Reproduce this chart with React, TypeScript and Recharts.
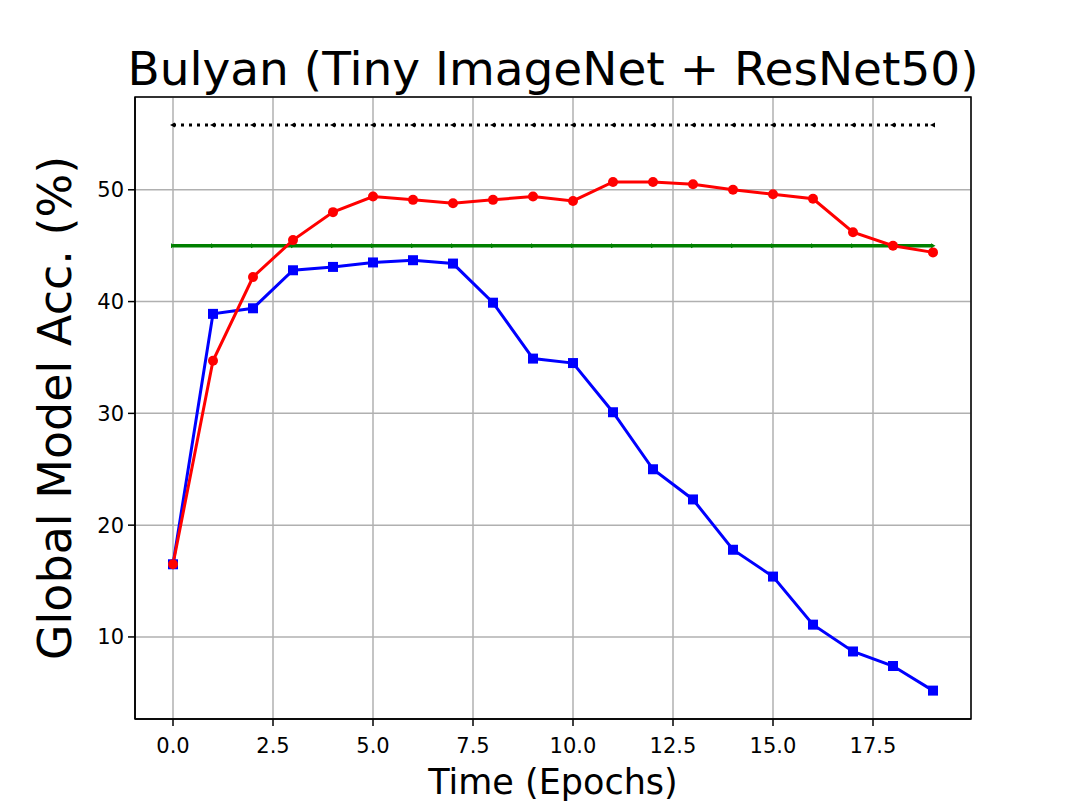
import { LineChart, Line, XAxis, YAxis, CartesianGrid, ReferenceArea } from 'recharts';

const epochs = [0, 1, 2, 3, 4, 5, 6, 7, 8, 9, 10, 11, 12, 13, 14, 15, 16, 17, 18, 19];
const attackAcc = [16.5, 38.9, 39.4, 42.8, 43.1, 43.5, 43.7, 43.4, 39.9, 34.9, 34.5, 30.1, 25.0, 22.3, 17.8, 15.4, 11.1, 8.7, 7.4, 5.2];
const bulyanAcc = [16.5, 34.7, 42.2, 45.5, 48.0, 49.4, 49.1, 48.8, 49.1, 49.4, 49.0, 50.7, 50.7, 50.5, 50.0, 49.6, 49.2, 46.2, 45.0, 44.4];
const benignAcc = [45.0, 45.0, 45.0, 45.0, 45.0, 45.0, 45.0, 45.0, 45.0, 45.0, 45.0, 45.0, 45.0, 45.0, 45.0, 45.0, 45.0, 45.0, 45.0, 45.0];
const upperAcc = [55.8, 55.8, 55.8, 55.8, 55.8, 55.8, 55.8, 55.8, 55.8, 55.8, 55.8, 55.8, 55.8, 55.8, 55.8, 55.8, 55.8, 55.8, 55.8, 55.8];

const xTicks = [0, 2.5, 5, 7.5, 10, 12.5, 15, 17.5];
const yTicks = [10, 20, 30, 40, 50];
const xDomain = [-0.95, 19.95];
const yDomain = [2.66, 58.3];

const data = epochs.map((e, i) => ({
  epoch: e,
  attack: attackAcc[i],
  bulyan: bulyanAcc[i],
  benign: benignAcc[i],
  upper: upperAcc[i],
}));

const FONT = 'DejaVu Sans, sans-serif';

const SquareDot = (props: any) => {
  const { cx, cy } = props;
  return <rect x={cx - 5} y={cy - 5} width={10} height={10} fill="#0000ff" />;
};

const CircleDot = (props: any) => {
  const { cx, cy } = props;
  return <circle cx={cx} cy={cy} r={5} fill="#ff0000" />;
};

const LeftTri = (props: any) => {
  const { cx, cy } = props;
  return <path d={`M${cx - 3},${cy} L${cx + 2},${cy - 2.5} L${cx + 2},${cy + 2.5} Z`} fill="#000" />;
};

const RightTri = (props: any) => {
  const { cx, cy } = props;
  return <path d={`M${cx + 2.5},${cy} L${cx - 2},${cy - 2.5} L${cx - 2},${cy + 2.5} Z`} fill="#008000" />;
};

export default function App() {
  return (
    <div style={{ position: 'absolute', left: 0, top: 0, width: 1079, height: 809, background: '#fff' }}>
      <LineChart width={1079} height={809} data={data} margin={{ top: 97, right: 108, bottom: 50, left: 75 }}>
        <CartesianGrid stroke="#b0b0b0" strokeWidth={1.5} />
        <XAxis
          dataKey="epoch"
          type="number"
          domain={xDomain}
          ticks={xTicks}
          allowDataOverflow
          tickFormatter={(v: number) => v.toFixed(1)}
          height={40}
          tickSize={7}
          tickMargin={12}
          stroke="#000"
          strokeWidth={1.5}
          tick={{ fill: '#000', fontSize: 21, fontFamily: FONT }}
        />
        <YAxis
          type="number"
          domain={yDomain}
          ticks={yTicks}
          allowDataOverflow
          width={60}
          tickSize={7}
          tickMargin={4}
          stroke="#000"
          strokeWidth={1.5}
          tick={{ fill: '#000', fontSize: 21, fontFamily: FONT }}
        />
        <ReferenceArea x1={xDomain[0]} x2={xDomain[1]} y1={yDomain[0]} y2={yDomain[1]} fill="none" stroke="#000" strokeWidth={1.5} ifOverflow="visible" />
        <Line dataKey="benign" stroke="#008000" strokeWidth={3.5} dot={<RightTri />} isAnimationActive={false} />
        <Line dataKey="upper" stroke="#000" strokeWidth={3} strokeDasharray="3 5" dot={<LeftTri />} isAnimationActive={false} />
        <Line dataKey="attack" stroke="#0000ff" strokeWidth={3} dot={<SquareDot />} isAnimationActive={false} />
        <Line dataKey="bulyan" stroke="#ff0000" strokeWidth={3} dot={<CircleDot />} isAnimationActive={false} />
      </LineChart>
      <svg width={1079} height={809} style={{ position: 'absolute', left: 0, top: 0, pointerEvents: 'none' }}>
        <text x={553} y={85} textAnchor="middle" fontSize={47} fontFamily={FONT} fill="#000">
          Bulyan (Tiny ImageNet + ResNet50)
        </text>
        <text x={553} y={794} textAnchor="middle" fontSize={35} fontFamily={FONT} fill="#000">
          Time (Epochs)
        </text>
        <text x={71} y={408} textAnchor="middle" fontSize={46} fontFamily={FONT} fill="#000" transform="rotate(-90 71 408)">
          Global Model Acc. (%)
        </text>
      </svg>
    </div>
  );
}
